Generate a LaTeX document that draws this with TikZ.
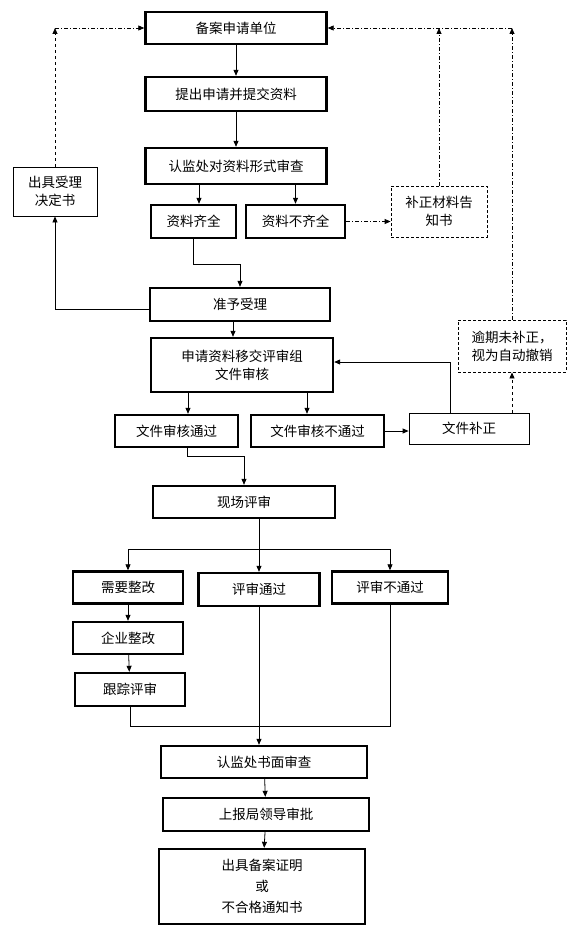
\documentclass[tikz,border=0pt]{standalone}
\usepackage{fontspec}
\setmainfont{Noto Sans CJK SC}
\usetikzlibrary{arrows.meta,positioning}

\begin{document}
\begin{tikzpicture}[x=1pt, y=-1pt,
    font=\fontsize{13.5}{18}\selectfont,
    stage/.style={draw, line width=2.4pt, inner sep=0pt, align=center},
    plain/.style={draw, line width=0.8pt, inner sep=0pt, align=center},
    finedash/.style={dash pattern=on 3pt off 2pt},
    flow/.style={line width=0.8pt, -{Triangle[length=6pt,width=5pt]}},
    link/.style={line width=0.8pt},
    dashdot/.style={dash pattern=on 4pt off 2pt on 1pt off 2pt}]
    \useasboundingbox (0,0) rectangle (578,950);

    \node[stage, minimum width=181pt, minimum height=32pt] (unit) at (236,28) {备案申请单位};
    \node[stage, minimum width=181pt, minimum height=34pt] (submit) at (236,94) {提出申请并提交资料};
    \node[stage, minimum width=181pt, minimum height=36pt] (formcheck) at (236,166) {认监处对资料形式审查};
    \node[stage, minimum width=85pt, minimum height=33pt] (complete) at (193.5,221.5) {资料齐全};
    \node[stage, minimum width=99pt, minimum height=33pt] (incomplete) at (295.5,221.5) {资料不齐全};
    \node[plain, finedash, minimum width=96pt, minimum height=51pt] (notice) at (439,211.5) {补正材料告\\知书};
    \node[plain, minimum width=84pt, minimum height=49pt] (acceptdoc) at (55,191.5) {出具受理\\决定书};
    \node[stage, minimum width=180pt, minimum height=33pt] (accept) at (240,304.5) {准予受理};
    \node[stage, minimum width=182pt, minimum height=54pt] (docreview) at (242,365) {申请资料移交评审组\\文件审核};
    \node[stage, minimum width=123pt, minimum height=32pt] (docpass) at (176.5,431) {文件审核通过};
    \node[stage, minimum width=133pt, minimum height=32pt] (docfail) at (317.5,431) {文件审核不通过};
    \node[plain, minimum width=120pt, minimum height=31pt] (amend) at (469,428.5) {文件补正};
    \node[plain, finedash, minimum width=108pt, minimum height=52pt] (expire) at (512,346) {逾期未补正，\\视为自动撤销};
    \node[stage, minimum width=182pt, minimum height=32pt] (site) at (244,502) {现场评审};
    \node[stage, minimum width=110pt, minimum height=32pt] (rectify) at (128,587.5) {需要整改};
    \node[stage, minimum width=121pt, minimum height=33pt] (sitepass) at (259,589.5) {评审通过};
    \node[stage, minimum width=116pt, minimum height=32pt] (sitefail) at (390,587.5) {评审不通过};
    \node[stage, minimum width=110pt, minimum height=32pt] (corp) at (128,638) {企业整改};
    \node[stage, minimum width=110pt, minimum height=33pt] (track) at (130,689.5) {跟踪评审};
    \node[stage, minimum width=206pt, minimum height=32pt] (written) at (264,762) {认监处书面审查};
    \node[stage, minimum width=206pt, minimum height=33pt] (approve) at (266,814.5) {上报局领导审批};
    \node[stage, minimum width=206pt, minimum height=75pt] (issue) at (262,886.5) {出具备案证明\\[3pt]或\\[3pt]不合格通知书};

    \coordinate (ltop) at (acceptdoc.north |- unit.west);
    \coordinate (rtop) at (expire.north |- unit.east);
    \coordinate (bus) at (0,549);
    \coordinate (join) at (0,726);

    \draw[flow] (unit) -- (submit);
    \draw[flow] (submit) -- (formcheck);
    \draw[flow] ([xshift=5.5pt]complete.north |- formcheck.south) -- ([xshift=5.5pt]complete.north);
    \draw[flow] (incomplete.north |- formcheck.south) -- (incomplete.north);
    \draw[flow, dashdot] (incomplete.east) -- (incomplete.east -| notice.west);
    \draw[flow, dashdot] (notice.north) -- (notice.north |- unit.east);
    \draw[flow, dashdot] (expire.north) -- (rtop);
    \draw[flow, dashdot] (rtop) -- (unit.east);
    \draw[flow, dashed] (acceptdoc.north) -- (ltop);
    \draw[flow, dashdot] (ltop) -- (unit.west);
    \draw[flow] (complete.south) -- ++(0,25) -| (accept.north);
    \draw[flow] ([yshift=-4.5pt]accept.west) -| (acceptdoc.south);
    \draw[flow] ([xshift=-7pt]accept.south) -- ([xshift=-7pt]accept.south |- docreview.north);
    \draw[flow] ([xshift=11.5pt]docpass.north |- docreview.south) -- ([xshift=11.5pt]docpass.north);
    \draw[flow] ([xshift=-10.5pt]docfail.north |- docreview.south) -- ([xshift=-10.5pt]docfail.north);
    \draw[flow] (docfail.east) -- (docfail.east -| amend.west);
    \draw[flow] ([xshift=-19pt]amend.north) |- ([yshift=3pt]docreview.east);
    \draw[flow, dashed] (amend.north -| expire.south) -- (expire.south);
    \draw[flow] ([xshift=10.5pt]docpass.south) -- ++(0,8) -| (site.north);
    \draw[flow] (sitepass.north |- site.south) -- (sitepass.north);
    \draw[flow] (sitepass.north |- bus) -| (rectify.north);
    \draw[flow] (sitepass.north |- bus) -| (sitefail.north);
    \draw[flow] (rectify) -- (corp);
    \draw[flow] (corp) -- (track);
    \draw[link] (track.south) |- (sitefail.south |- join) -- (sitefail.south);
    \draw[flow] (sitepass.south) -- (sitepass.south |- written.north);
    \draw[flow] (written) -- (approve);
    \draw[flow] (approve) -- (issue);
\end{tikzpicture}
\end{document}
